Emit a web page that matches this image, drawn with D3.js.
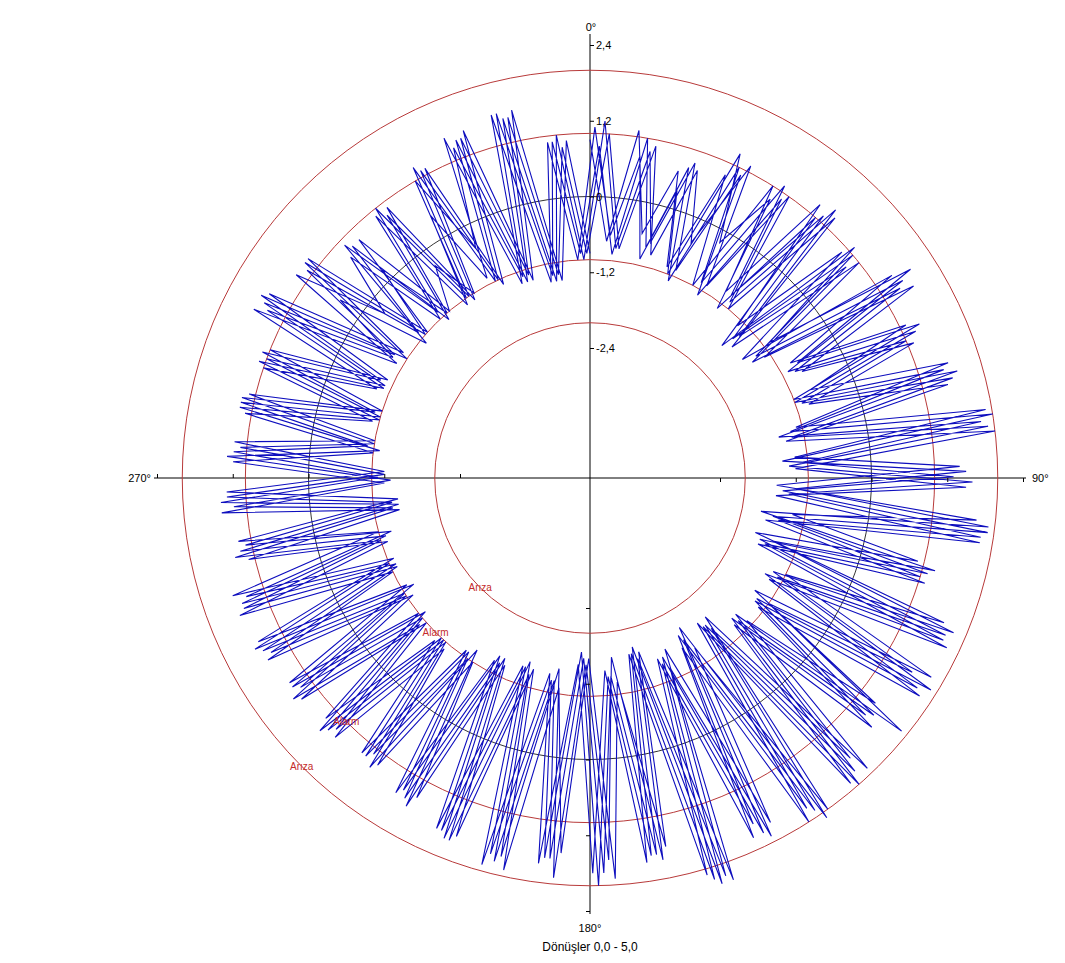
<html>
<head>
  <meta charset="utf-8">
  <script src="https://d3js.org/d3.v7.min.js"></script>
  <style>
    body { margin: 0; background: #fff; }
    text { font-family: "Liberation Sans", Arial, sans-serif; }
  </style>
  <script>
    // radial axis values and limit circles
    var tickValues = [-2.4, -1.2, 0, 1.2, 2.4];
    var limitValues = [-2, -1, 1, 2];
    var limitLabels = ["Arıza", "Alarm", "Alarm", "Arıza"];
    var rotationRange = [0, 5];
    var directionLabels = ["0°", "90°", "180°", "270°"];

    // readings per rotation, one every ~4 degrees
    var turn1 = [0.9,-0.7,1.1,-0.5,0.6,-0.9,0.8,-1.0,1.0,-0.8,
                 1.2,-1.1,0.9,-1.4,1.3,-0.8,1.1,-0.7,1.5,-1.1,
                 1.9,-1.2,1.4,-1.5,1.7,-1.2,0.9,-1.7,1.6,-1.0,
                 1.8,-1.3,1.3,-1.1,1.9,-1.6,2.0,-1.3,1.7,-1.5,
                 2.3,-1.6,1.5,-1.2,1.9,-1.6,1.5,-1.1,1.9,-1.3,
                 1.6,-1.2,1.3,-1.0,1.2,-0.9,1.3,-1.0,1.3,-1.1,
                 1.4,-1.0,1.5,-1.1,1.1,-1.4,1.4,-1.2,1.2,-1.0,
                 1.1,-0.9,1.0,-0.8,1.5,-0.9,1.2,-0.3,0.7,-1.0,
                 0.9,-1.1,0.4,-0.9,1.4,-1.2,1.5,-1.3,0.9,-1.0];
    var turn2 = [1.1,-0.6,0.7,-0.9,0.3,-1.0,1.2,-0.2,0.8,-1.1,
                 1.0,-1.5,1.1,-0.9,1.6,-0.7,1.3,-1.0,1.4,-1.2,
                 2.0,-1.4,1.5,-1.2,1.9,-1.7,1.2,-1.4,1.8,-1.2,
                 1.5,-1.0,1.9,-1.3,1.6,-1.4,2.1,-1.7,1.9,-1.2,
                 2.2,-1.5,1.7,-1.6,1.6,-1.5,1.9,-1.4,1.7,-1.2,
                 1.7,-1.3,1.5,-1.2,1.3,-1.0,1.2,-0.9,1.4,-1.0,
                 1.3,-1.1,1.4,-1.0,1.3,-1.3,1.2,-1.3,1.3,-1.1,
                 1.2,-1.0,1.1,-0.9,1.3,-0.8,0.4,-1.1,0.9,-0.9,
                 1.0,-1.0,1.0,-0.4,1.2,-1.1,1.5,-1.2,0.9,-0.9];
    var turn3 = [0.8,-0.9,1.0,-0.7,0.7,-1.1,1.0,-0.9,1.1,-0.8,
                 1.1,-1.3,1.0,-1.2,1.4,-0.9,1.2,-1.0,1.6,-1.4,
                 1.8,-1.1,1.3,-1.4,1.9,-1.5,1.1,-1.6,1.7,-1.1,
                 1.9,-1.2,1.4,-1.2,1.8,-1.5,1.9,-1.5,1.8,-1.4,
                 2.3,-1.7,1.6,-1.3,1.8,-1.6,1.6,-1.2,1.8,-1.4,
                 1.7,-1.2,1.4,-1.0,1.1,-1.0,1.3,-1.0,1.2,-1.0,
                 1.4,-1.1,1.4,-1.1,1.2,-1.4,1.4,-1.1,1.2,-0.9,
                 1.2,-1.0,1.0,-0.9,1.4,-0.8,1.1,-0.9,0.8,-1.1,
                 0.8,-1.0,1.2,-1.0,1.3,-1.2,1.4,-1.3,1.0,-1.0];
    var turn4 = [1.2,-0.8,0.8,-0.6,0.8,-0.9,0.9,-1.1,0.9,-0.9,
                 1.3,-1.2,0.8,-1.3,1.3,-0.8,1.0,-0.9,1.5,-1.2,
                 1.9,-1.3,1.6,-1.3,1.8,-1.4,1.0,-1.5,1.7,-1.3,
                 1.7,-1.2,1.3,-1.3,2.0,-1.5,1.8,-1.6,1.6,-1.3,
                 2.2,-1.6,1.6,-1.3,2.0,-1.7,1.6,-1.2,1.7,-1.3,
                 1.6,-1.3,1.3,-1.1,1.2,-1.0,1.4,-1.1,1.3,-1.2,
                 1.5,-1.0,1.3,-1.2,1.1,-1.3,1.3,-1.2,1.1,-1.0,
                 1.2,-0.9,1.1,-0.8,1.5,-1.0,1.2,-1.0,0.2,-1.0,
                 0.9,-1.1,1.1,-1.0,1.3,-1.1,1.4,-1.2,0.8,-0.9];
    var turn5 = [1.0,-0.8,0.9,-0.8,0.7,-0.4,1.1,-0.9,1.0,-1.0,
                 1.2,-1.4,1.0,-1.1,1.5,-0.7,1.1,-0.8,1.4,-1.3,
                 2.0,-1.2,1.5,-1.5,1.8,-1.6,1.1,-1.6,1.8,-1.2,
                 1.8,-1.1,1.5,-1.2,1.9,-1.6,2.0,-1.4,1.8,-1.4,
                 2.1,-1.6,1.7,-1.4,1.8,-1.5,1.7,-1.3,1.9,-1.3,
                 1.6,-1.2,1.4,-1.1,1.2,-0.9,1.2,-1.0,1.3,-1.1,
                 1.4,-1.1,1.5,-1.0,1.2,-1.4,1.3,-1.2,1.2,-1.0,
                 1.1,-1.0,1.0,-0.9,1.4,-0.9,1.2,-1.0,0.8,-1.0,
                 -0.3,-1.0,1.1,-1.1,1.4,-1.2,1.5,-1.3,0.9,-0.9];

    function draw() {
      var W = 1065, H = 963, cx = 590, cy = 478;
      var svg = d3.select("#chart").attr("width", W).attr("height", H);

      var rScale = d3.scaleLinear().domain([-2.4, 2.4]).range([130, 433]);
      var readings = turn1.concat(turn2, turn3, turn4, turn5);
      var rotScale = d3.scaleLinear().domain([0, readings.length - 1]).range(rotationRange);
      var angScale = d3.scaleLinear().domain([0, 1]).range([0, 2 * Math.PI]);

      var loc = d3.formatLocale({decimal: ",", thousands: ".", grouping: [3], currency: ["", ""], minus: "-"});
      var fmt = loc.format(".1f");

      var g = svg.append("g").attr("transform", "translate(" + cx + "," + cy + ")");

      // axes lines
      var ax = 436;
      g.append("line").attr("x1", 0).attr("x2", 0).attr("y1", -ax - 8).attr("y2", ax).attr("stroke", "#000");
      g.append("line").attr("x1", -ax).attr("x2", ax).attr("y1", 0).attr("y2", 0).attr("stroke", "#000");

      // limit circles
      g.selectAll("circle.limit").data(limitValues).enter().append("circle")
        .attr("class", "limit")
        .attr("r", d => rScale(d))
        .attr("fill", "none").attr("stroke", "#b83a3a").attr("stroke-width", 1);
      g.append("circle").attr("r", rScale(0)).attr("fill", "none").attr("stroke", "#000").attr("stroke-width", 0.8);

      // ticks on four half-axes
      var yTop = d3.scaleLinear().domain([-2.4, 2.4]).range([cy - 130, cy - 433]);
      var yBot = d3.scaleLinear().domain([-2.4, 2.4]).range([cy + 130, cy + 433]);
      var xLeft = d3.scaleLinear().domain([-2.4, 2.4]).range([cx - 130, cx - 433]);
      var xRight = d3.scaleLinear().domain([-2.4, 2.4]).range([cx + 130, cx + 433]);

      var top = svg.append("g").attr("transform", "translate(" + cx + ",0)")
        .call(d3.axisRight(yTop).tickValues(tickValues).tickSize(4).tickSizeOuter(0)
          .tickFormat(d => d === 0 ? "0" : fmt(d)));
      svg.append("g").attr("transform", "translate(" + cx + ",0)")
        .call(d3.axisLeft(yBot).tickValues(tickValues).tickSize(4).tickSizeOuter(0).tickFormat(""));
      svg.append("g").attr("transform", "translate(0," + cy + ")")
        .call(d3.axisTop(xLeft).tickValues(tickValues).tickSize(4).tickSizeOuter(0).tickFormat(""));
      svg.append("g").attr("transform", "translate(0," + cy + ")")
        .call(d3.axisBottom(xRight).tickValues(tickValues).tickSize(4).tickSizeOuter(0).tickFormat(""));
      svg.selectAll(".domain").remove();
      svg.selectAll(".tick text").attr("font-family", "Liberation Sans, Arial, sans-serif").attr("font-size", 11).attr("fill", "#000");
      top.selectAll(".tick text").attr("x", 6);

      // data trace
      var line = d3.lineRadial()
        .angle((d, i) => angScale(rotScale(i)))
        .radius(d => rScale(d));
      g.append("path").datum(readings)
        .attr("d", line)
        .attr("fill", "none").attr("stroke", "#0e0ebe").attr("stroke-width", 1.1);

      // limit labels
      g.selectAll("text.lim").data(limitValues).enter().append("text")
        .attr("class", "lim")
        .attr("x", d => d3.pointRadial(Math.PI * 1.25, rScale(d))[0])
        .attr("y", d => d3.pointRadial(Math.PI * 1.25, rScale(d))[1])
        .attr("dy", "0.35em").attr("text-anchor", "middle")
        .attr("font-size", 10).attr("fill", "#c42a2a")
        .text((d, i) => limitLabels[i]);

      // direction labels
      var lab = svg.append("g").attr("font-size", 11);
      lab.append("text").attr("x", cx + 1).attr("y", 31).attr("text-anchor", "middle").text(directionLabels[0]);
      lab.append("text").attr("x", cx + ax + 6).attr("y", cy).attr("dy", "0.35em").text(directionLabels[1]);
      lab.append("text").attr("x", cx).attr("y", cy + ax + 18).attr("text-anchor", "middle").text(directionLabels[2]);
      lab.append("text").attr("x", cx - ax - 3).attr("y", cy).attr("dy", "0.35em").attr("text-anchor", "end").text(directionLabels[3]);

      svg.append("text").attr("x", cx).attr("y", cy + ax + 37).attr("text-anchor", "middle").attr("font-size", 12)
        .text("Dönüşler " + loc.format(".1f")(rotationRange[0]) + " - " + loc.format(".1f")(rotationRange[1]));
    }
  </script>
</head>
<body onload="draw()">
  <svg id="chart"></svg>
</body>
</html>
